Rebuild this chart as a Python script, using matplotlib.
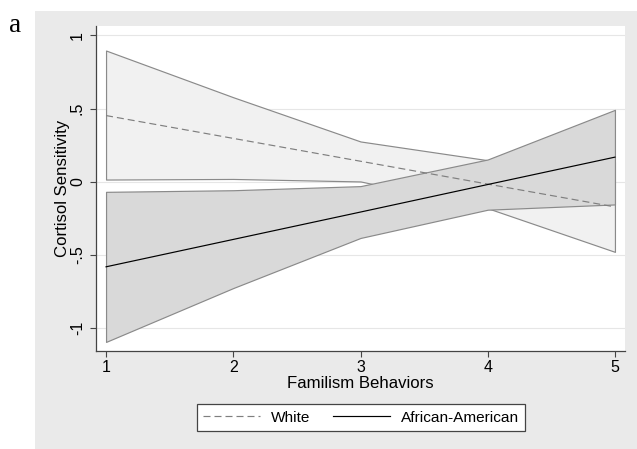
import matplotlib
matplotlib.use("Agg")
import matplotlib.pyplot as plt
from matplotlib.patches import Rectangle
from matplotlib.lines import Line2D

# ---- data ----
x = [1, 2, 3, 4, 5]
white_mean = [0.453, 0.297, 0.141, -0.015, -0.171]
white_lo = [0.016, 0.020, 0.003, -0.180, -0.478]
white_hi = [0.897, 0.578, 0.276, 0.148, 0.136]
aa_mean = [-0.580, -0.393, -0.206, -0.018, 0.169]
aa_lo = [-1.093, -0.725, -0.383, -0.190, -0.154]
aa_hi = [-0.068, -0.057, -0.029, 0.153, 0.492]
yticks = [-1, -0.5, 0, 0.5, 1]
yticklabels = ["-1", "-.5", "0", ".5", "1"]
xticks = [1, 2, 3, 4, 5]
series_names = ["White", "African-American"]

plt.rcParams['font.family'] = ['Liberation Sans', 'DejaVu Sans']
FS_TICK = 11.5
FS_LAB = 12.1
FS_LEG = 11.1
W, H = 637, 449
fig = plt.figure(figsize=(W / 100, H / 100), dpi=100)
fig.patch.set_facecolor('white')

# outer grey panel
fig.patches.append(Rectangle((35 / W, 0), (W - 35) / W, (H - 11) / H,
                             transform=fig.transFigure, facecolor='#eaeaea',
                             edgecolor='none', zorder=-5))

ax = fig.add_axes([96 / W, 1 - 351 / H, (625 - 96) / W, (351 - 25.5) / H])
ax.set_zorder(1)
ax.set_facecolor('white')
ax.set_xlim(0.921, 5.079)
ax.set_ylim(-1.155, 1.068)

for yt in yticks:
    ax.axhline(yt, color='#e6e6e6', lw=0.8, zorder=1)

outline = '#8a8a8a'
ax.fill_between(x, white_lo, white_hi, facecolor='#f1f1f1', edgecolor=outline,
                lw=0.85, zorder=2)
ax.fill_between(x, aa_lo, aa_hi, facecolor='#d9d9d9', edgecolor=outline,
                lw=0.85, zorder=3)
lw_d = 0.85
dash = (0, (7 * 0.72 / lw_d, 4 * 0.72 / lw_d))
ax.plot(x, white_mean, color='#7f7f7f', lw=lw_d, linestyle=dash, zorder=4)
ax.plot(x, aa_mean, color='black', lw=0.85, zorder=5)

for s in ['top', 'right']:
    ax.spines[s].set_visible(False)
for s in ['left', 'bottom']:
    ax.spines[s].set_color('#444444')
    ax.spines[s].set_linewidth(0.9)

ax.set_xticks(xticks)
ax.set_xticklabels([str(v) for v in xticks], fontsize=FS_TICK)
ax.set_yticks(yticks)
ax.set_yticklabels(yticklabels, fontsize=FS_TICK, rotation=90, va='center')
ax.tick_params(axis='both', length=4, width=0.8, color='#444444')
ax.tick_params(axis='x', pad=2.5)
ax.tick_params(axis='y', pad=4)

ax.set_xlabel("Familism Behaviors", fontsize=FS_LAB)
ax.xaxis.set_label_coords(0.5, -0.077)
ax.set_ylabel("Cortisol Sensitivity", fontsize=FS_LAB)
ax.yaxis.set_label_coords(-0.05, 0.5)

handles = [Line2D([], [], color='#7f7f7f', lw=lw_d, linestyle=dash),
           Line2D([], [], color='black', lw=0.85)]
leg = fig.legend(handles, series_names, loc='center',
                 bbox_to_anchor=(361 / W, 1 - 417.5 / H), ncol=2,
                 fontsize=FS_LEG, frameon=True, fancybox=False, handlelength=3.7,
                 handletextpad=0.7, columnspacing=1.5, borderpad=0.4,
                 borderaxespad=0)
leg.get_frame().set_edgecolor('#444444')
leg.get_frame().set_linewidth(0.9)
leg.get_frame().set_facecolor('white')
leg.get_frame().set_alpha(1)

fig.text(9 / W, 1 - 32 / H, "a", fontsize=19.5, family='Liberation Serif',
         ha='left', va='baseline')

fig.savefig("out.png", dpi=100)
